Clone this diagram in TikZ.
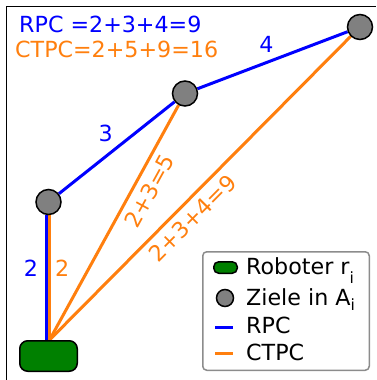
\documentclass[tikz,border=0pt]{standalone}
\usepackage{fontspec}
\setmainfont{DejaVu Sans}
\usetikzlibrary{positioning}
\definecolor{rpcblue}{RGB}{0,0,255}
\definecolor{ctpcorange}{RGB}{255,127,14}
\definecolor{robotgreen}{RGB}{0,128,0}
\definecolor{goalgray}{RGB}{128,128,128}
\pgfdeclarelayer{bg}
\pgfsetlayers{bg,main}
\newcommand{\lowidx}[2]{\raisebox{-#1}{\fontsize{15.5}{15.5}\selectfont #2}}

\begin{document}
\begin{tikzpicture}[
        x=1pt, y=-1pt,
        every node/.style={font=\fontsize{22.2}{26}\selectfont, inner sep=0pt},
        robot/.style={draw, line width=1.5pt, fill=robotgreen, rounded corners=8pt, minimum width=57.5pt, minimum height=30.5pt},
        goal/.style={draw, circle, line width=1.5pt, fill=goalgray, minimum size=25pt},
        rpc/.style={rpcblue, line width=3pt},
        ctpc/.style={ctpcorange, line width=3pt},
        keytext/.style={anchor=base west}
      ]
    \useasboundingbox (0,0) rectangle (376,380);
    \draw[line width=1.6pt] (6.5,380) -- (6.5,6.5) -- (376,6.5);

    \node[robot] (robot) at (48.5,356) {};
    \node[goal] (ziel1) at (48.5,202) {};
    \node[goal] (ziel2) at (185,93.5) {};
    \node[goal] (ziel3) at (360,27) {};

    \begin{pgfonlayer}{bg}
    \draw[ctpc] ([xshift=1pt]robot.north) -- node[pos=0.572, right=4pt, text=ctpcorange] (ctpc1) {2} ([xshift=1pt]ziel1.south);
    \draw[ctpc] ([xshift=1pt]robot.north) -- node[pos=0.667, sloped, below=6pt, text=ctpcorange] (ctpc2) {2+3=5} (ziel2);
    \draw[ctpc] ([xshift=1pt]robot.north) -- node[pos=0.438, sloped, below=6pt, text=ctpcorange] (ctpc3) {2+3+4=9} (ziel3);
    \draw[rpc] ([xshift=-2pt]robot.north) -- node[pos=0.572, left=7pt, text=rpcblue] (rpc1) {2} ([xshift=-2pt]ziel1.south);
    \draw[rpc] (ziel1) -- node[pos=0.51, above left=5pt, text=rpcblue] (rpc2) {3} (ziel2);
    \draw[rpc] (ziel2) -- node[pos=0.46, above=9pt, text=rpcblue] (rpc3) {4} (ziel3);
    \end{pgfonlayer}

    \node[anchor=base west, text=rpcblue] (rpcsum) at (19,32) {RPC =2+3+4=9};
    \node[anchor=base west, text=ctpcorange] (ctpcsum) at (15,57) {CTPC=2+5+9=16};

    \node[draw=black!45, line width=1.5pt, rounded corners=4pt, fill=white, minimum width=166.5pt, minimum height=118.5pt] (legende) at (286,311) {};
    \node[robot, minimum width=23.5pt, minimum height=11.5pt, rounded corners=5pt] (keyrobot) at (225.5,267.5) {};
    \node[goal, minimum size=17pt] (keyziel) at (225,298) {};
    \coordinate (keyrpcA) at (215,327);
    \coordinate (keyrpcB) at (233,327);
    \coordinate (keyctpcA) at (215,353);
    \coordinate (keyctpcB) at (233,353);
    \draw[rpc] (keyrpcA) -- (keyrpcB);
    \draw[ctpc] (keyctpcA) -- (keyctpcB);
    \node[keytext] (keyrobottext) at (246,274.5) {Roboter r\lowidx{8.5pt}{i}};
    \node[keytext] (keyzieltext) at (246,305) {Ziele in A\lowidx{5pt}{i}};
    \node[keytext] (keyrpctext) at (246,333) {RPC};
    \node[keytext] (keyctpctext) at (246,360) {CTPC};

    \end{tikzpicture}
\end{document}
